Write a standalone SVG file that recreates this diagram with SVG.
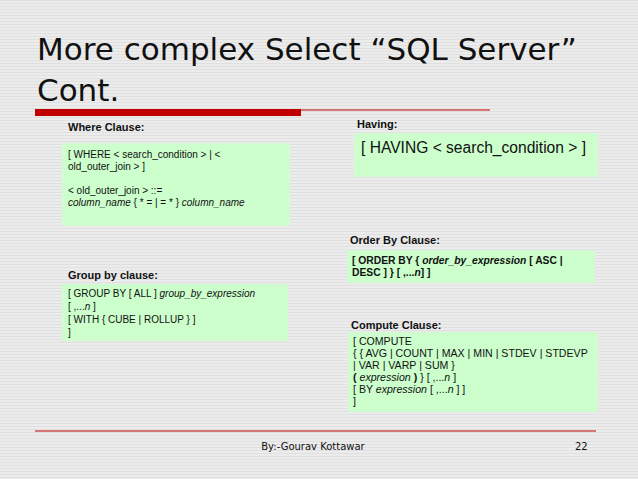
<svg xmlns="http://www.w3.org/2000/svg" width="638" height="479" viewBox="0 0 638 479">
<defs>
<pattern id="st" width="4" height="3" patternUnits="userSpaceOnUse"><rect width="4" height="3" fill="#ececec"/><rect width="4" height="1" fill="#e0e0e0"/></pattern>
</defs>
<style>
.lbl{font-family:"Liberation Sans",Arial,sans-serif;font-weight:bold;font-size:11px;fill:#111}
.box{fill:#ccffcc;stroke:#dfeedf;stroke-width:1}
.t{font-family:"Liberation Sans",Arial,sans-serif;font-size:10px;fill:#111}
.i{font-style:italic}
.b{font-weight:bold}
</style>
<rect width="638" height="479" fill="url(#st)"/>
<g id="title"><text font-family="DejaVu Sans,Verdana,sans-serif" font-size="31" fill="#111"><tspan x="37" y="60">More complex Select “SQL Server”</tspan><tspan x="37" y="101">Cont.</tspan></text>
<rect x="35" y="109" width="266" height="7" fill="#c00000"/><line x1="301" y1="110" x2="490" y2="110" stroke="#c00000" stroke-width="1.2"/></g>
<g id="where"><text class="lbl" x="68" y="131">Where Clause:</text><rect class="box" x="62" y="143" width="228" height="83"/>
<text class="t"><tspan x="68" y="158">[ WHERE &lt; search_condition &gt; | &lt;</tspan><tspan x="68" y="170">old_outer_join &gt; ]</tspan><tspan x="68" y="194">&lt; old_outer_join &gt; ::=</tspan><tspan x="68" y="206"><tspan class="i">column_name</tspan> { * = | = * } <tspan class="i">column_name</tspan></tspan></text></g>
<g id="group"><text class="lbl" x="68" y="279">Group by clause:</text><rect class="box" x="62" y="284" width="226" height="57"/>
<text class="t"><tspan x="68" y="297">[ GROUP BY [ ALL ] <tspan class="i">group_by_expression</tspan></tspan><tspan x="68" y="310">[ ,...<tspan class="i">n</tspan> ]</tspan><tspan x="68" y="323">[ WITH { CUBE | ROLLUP } ]</tspan><tspan x="68" y="336">]</tspan></text></g>
<g id="having"><text class="lbl" x="357" y="128">Having:</text><rect class="box" x="354" y="133" width="244" height="44"/>
<text class="t" style="font-size:15.6px" x="361" y="153">[ HAVING &lt; search_condition &gt; ]</text></g>
<g id="order"><text class="lbl" x="350" y="244">Order By Clause:</text><rect class="box" x="347" y="250" width="248" height="33"/>
<text class="t b" style="font-size:10.3px"><tspan x="352" y="264">[ ORDER BY { <tspan class="i">order_by_expression</tspan> [ ASC |</tspan><tspan x="352" y="276">DESC ] } [ ,...<tspan class="i">n</tspan>] ]</tspan></text></g>
<g id="compute"><text class="lbl" x="351" y="329">Compute Clause:</text><rect class="box" x="348" y="332" width="250" height="80"/>
<text class="t" style="font-size:10.6px"><tspan x="353" y="345">[ COMPUTE</tspan><tspan x="353" y="357">{ { AVG | COUNT | MAX | MIN | STDEV | STDEVP</tspan><tspan x="353" y="369">| VAR | VARP | SUM }</tspan><tspan x="353" y="381"><tspan class="b">(</tspan> <tspan class="i">expression</tspan> <tspan class="b">)</tspan> } [ ,...<tspan class="i">n</tspan> ]</tspan><tspan x="353" y="393">[ BY <tspan class="i">expression</tspan> [ ,...<tspan class="i">n</tspan> ] ]</tspan><tspan x="353" y="405">]</tspan></text></g>
<g id="footer"><line x1="35" y1="431" x2="596" y2="431" stroke="#c00000" stroke-width="1"/>
<text font-family="DejaVu Sans,Verdana,sans-serif" font-size="10" fill="#111" x="313" y="450" text-anchor="middle">By:-Gourav Kottawar</text>
<text font-family="DejaVu Sans,Verdana,sans-serif" font-size="10" fill="#111" x="575" y="450">22</text></g>
<g id="connectors"/>
</svg>
